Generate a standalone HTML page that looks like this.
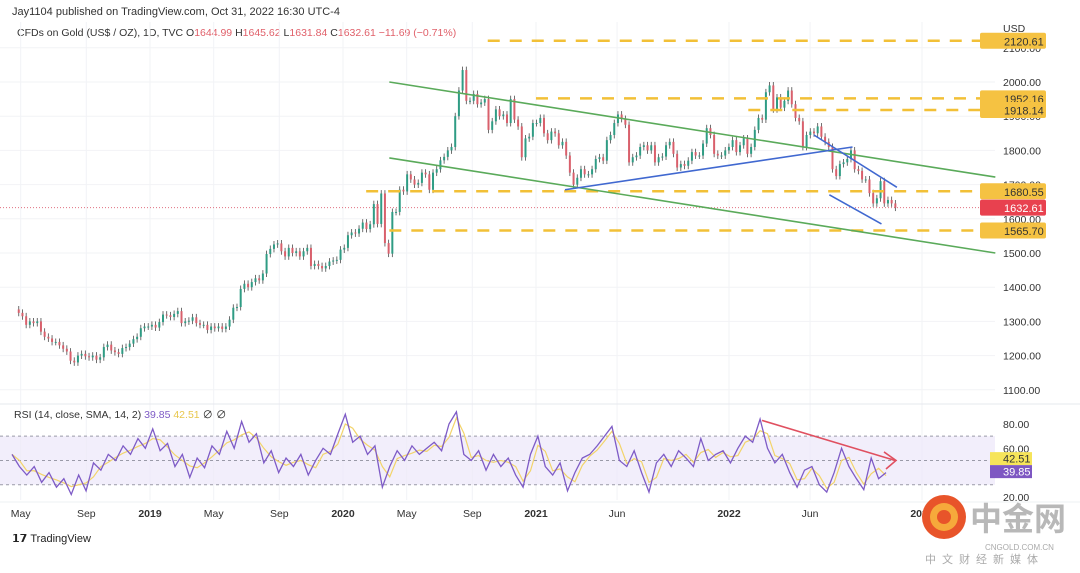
<!DOCTYPE html>
<html><head><meta charset="utf-8">
<style>
body{margin:0;background:#fff;width:1080px;height:568px;overflow:hidden;font-family:"Liberation Sans","Noto Sans CJK SC",sans-serif;}
svg text{font-family:"Liberation Sans","Noto Sans CJK SC",sans-serif;}
</style></head>
<body>
<svg id="c" width="1080" height="568" viewBox="0 0 1080 568" xmlns="http://www.w3.org/2000/svg">
<text x="12" y="15" font-size="11" fill="#333">Jay1104 published on TradingView.com, Oct 31, 2022 16:30 UTC-4</text>
<text x="17" y="36" font-size="10.5" fill="#333">CFDs on Gold (US$ / OZ), 1D, TVC  O<tspan fill="#e0606a">1644.99</tspan> H<tspan fill="#e0606a">1645.62</tspan> L<tspan fill="#e0606a">1631.84</tspan> C<tspan fill="#e0606a">1632.61</tspan> <tspan fill="#e0606a">−11.69 (−0.71%)</tspan></text>
<text x="1003" y="32" font-size="10.5" fill="#333">USD</text>
<g id="grid"></g><g id="candles"></g><g id="draw"></g><g id="rsi"></g><g id="axis"></g>
<g>
<circle cx="944" cy="517" r="22" fill="#e8542a"/>
<circle cx="944" cy="517" r="14" fill="#f6a93b"/>
<circle cx="944" cy="517" r="7" fill="#e8542a"/>
<text x="970" y="530" font-size="32" fill="#b8b8b8" font-weight="bold">中金网</text>
<text x="985" y="550" font-size="8" fill="#aaa">CNGOLD.COM.CN</text>
<text x="925" y="563" font-size="11" fill="#aaa" letter-spacing="6">中文财经新媒体</text>
</g>
<text x="12" y="542" font-size="11" fill="#222" font-weight="bold">𝟭𝟳 <tspan font-weight="normal">TradingView</tspan></text>
</svg>
<script>
const closes=[1325,1315,1290,1300,1295,1300,1270,1255,1250,1240,1240,1230,1220,1212,1185,1180,1200,1205,1198,1195,1200,1188,1195,1225,1232,1215,1210,1205,1222,1225,1235,1248,1255,1280,1285,
1285,1290,1282,1298,1320,1318,1313,1322,1330,1295,1300,1302,1312,1295,1290,1290,1275,1285,1280,1285,1278,1285,1305,1340,1342,1395,1410,1400,1415,1426,1420,1440,1497,1512,1525,1528,1505,1490,1515,1500,1505,1490,1505,1515,1462,1468,1462,1455,1462,1475,1478,1480,1510,1515,
1552,1560,1557,1571,1589,1570,1584,1643,1585,1674,1529,1498,1620,1620,1685,1680,1730,1715,1700,1705,1735,1730,1685,1735,1745,1771,1781,1800,1810,1900,1975,2035,1945,1945,1965,1935,1940,1950,1860,1885,1920,1900,1905,1880,1950,1890,1870,1780,1835,1840,1880,1880,1895,
1850,1830,1855,1850,1815,1825,1785,1735,1700,1720,1745,1730,1730,1745,1775,1780,1770,1830,1845,1880,1905,1892,1875,1765,1780,1785,1810,1815,1800,1815,1765,1780,1782,1815,1825,1790,1750,1760,1755,1770,1795,1785,1785,1820,1865,1845,1790,1785,1785,1800,1810,1830,
1795,1815,1835,1790,1810,1860,1895,1890,1970,1990,1920,1955,1925,1945,1975,1935,1895,1885,1810,1845,1855,1850,1870,1840,1825,1810,1745,1725,1760,1765,1775,1800,1745,1740,1715,1715,1675,1645,1660,1710,1645,1655,1645,1632.61];
const rsiVals=[55,45,38,45,32,40,28,35,22,38,25,48,42,55,50,62,55,68,60,76,58,64,45,55,36,52,44,62,55,74,60,82,65,72,48,58,40,52,45,55,38,50,60,55,72,88,65,70,55,62,28,45,58,50,62,55,60,65,58,80,90,55,50,58,42,55,45,52,38,28,55,70,45,38,48,25,40,52,55,62,70,78,50,45,58,40,24,48,55,45,58,52,45,68,50,55,58,48,60,70,65,84,60,48,55,40,28,42,45,30,24,40,60,45,35,26,52,35,40];
const priceTicks=[1100,1200,1300,1400,1500,1600,1700,1800,1900,2000,2100];
const rsiTicks=[20,60,80];
const timeLabels=["May","Sep","2019","May","Sep","2020","May","Sep","2021","Jun","2022","Jun","2023"];
const timeDates=[2018.33,2018.67,2019,2019.33,2019.67,2020,2020.33,2020.67,2021,2021.42,2022,2022.42,2023];
const levels=[2120.61,1952.16,1918.14,1680.55,1565.70];
const levelStart=[2020.75,2021.0,2022.1,2020.12,2020.24];
const NS="http://www.w3.org/2000/svg";
const xD=t=>150+(t-2019)*193;
const yP=p=>82+(2000-p)*0.342;
const yR=v=>424+(80-v)*1.215;
const t0=2018.32;
function mk(tag,attrs,parent,txt){const e=document.createElementNS(NS,tag);for(const k in attrs)e.setAttribute(k,attrs[k]);if(txt!=null)e.textContent=txt;document.getElementById(parent).appendChild(e);return e;}
priceTicks.forEach(p=>{const l=mk('line',{x1:0,x2:995,y1:yP(p),y2:yP(p),stroke:'#f2f3f6'},'grid');


const t=mk('text',{x:1003,y:yP(p)+4,'font-size':10.5,fill:'#333'},'axis',p.toFixed(2));

});
timeLabels.forEach((s,i)=>{const x=xD(timeDates[i]);const l=mk('line',{x1:x,x2:x,y1:22,y2:500,stroke:'#f2f3f6'},'grid');


const t=mk('text',{x:x,y:517,'font-size':10.5,fill:'#333','text-anchor':'middle','font-weight':/^\d/.test(s)?'bold':'normal'},'axis',s);

});
mk('line',{x1:0,x2:1080,y1:404,y2:404,stroke:'#e6e8ee'},'grid');
mk('line',{x1:0,x2:1080,y1:502,y2:502,stroke:'#eef0f3'},'grid');
const cur=closes[closes.length-1];
const cl=mk('line',{x1:0,x2:995,y1:yP(cur),y2:yP(cur),stroke:'#e07080','stroke-dasharray':'1,2'},'grid');


closes.forEach((c,i)=>{const o=i?closes[i-1]:c+10;const x=xD(t0+i/52.18);const hi=Math.max(o,c)+10,lo=Math.min(o,c)-10;const col=c>=o?'#2f9c84':'#d9606c';
const w=mk('line',{x1:x,x2:x,y1:yP(hi),y2:yP(lo),stroke:'#4a4a4a','stroke-width':0.8},'candles');


const b=mk('rect',{x:x-1,y:yP(Math.max(o,c)),width:2,height:Math.max(1,Math.abs(yP(o)-yP(c))),fill:col},'candles');

});
levels.forEach((p,i)=>{const l=mk('line',{x1:xD(levelStart[i]),x2:995,y1:yP(p),y2:yP(p),stroke:'#f2c037','stroke-width':2.5,'stroke-dasharray':'12,10'},'draw');

});
function tl(t1,p1,t2,p2,col,name){const l=mk('line',{x1:xD(t1),y1:yP(p1),x2:xD(t2),y2:yP(p2),stroke:col,'stroke-width':1.6},'draw');

}
tl(2020.24,2000,2023.38,1722,'#5aaa5a','channel-upper');
tl(2020.24,1778,2023.38,1500,'#5aaa5a','channel-lower');
tl(2021.15,1685,2022.64,1810,'#4068d0','support-trendline');
tl(2022.44,1845,2022.87,1692,'#4068d0','wedge-upper');
tl(2022.52,1670,2022.79,1585,'#4068d0','wedge-lower');
function lab(p,txt,bg,fg,name){const y=yP(p);const r=mk('rect',{x:980,y:y-8,width:66,height:16,rx:2,fill:bg},'axis');


const t=mk('text',{x:1004,y:y+4.5,'font-size':11,fill:fg},'axis',txt);

}
lab(2120.61,'2120.61','#f5c242','#333','level-label');
lab(1952.16,'1952.16','#f5c242','#333','level-label');
lab(1918.14,'1918.14','#f5c242','#333','level-label');
lab(1680.55,'1680.55','#f5c242','#333','level-label');
lab(cur,cur.toFixed(2),'#e8414f','#fff','last-price-label');
lab(1565.70,'1565.70','#f5c242','#333','level-label');
mk('rect',{x:0,y:yR(70),width:995,height:yR(30)-yR(70),fill:'#ede7f9',opacity:0.7},'rsi');
[70,50,30].forEach(v=>{const l=mk('line',{x1:0,x2:995,y1:yR(v),y2:yR(v),stroke:'#9a9aa8','stroke-dasharray':'3,3'},'rsi');

});
const n=rsiVals.length;const rx=i=>12+i*(874/(n-1));
const sma=rsiVals.map((v,i)=>{const s=rsiVals.slice(Math.max(0,i-1),i+1);return s.reduce((a,b)=>a+b,0)/s.length;});
const sm=mk('polyline',{points:sma.map((v,i)=>rx(i)+','+yR(v)).join(' '),fill:'none',stroke:'#f3d46a','stroke-width':1.2},'rsi');


const rl=mk('polyline',{points:rsiVals.map((v,i)=>rx(i)+','+yR(v)).join(' '),fill:'none',stroke:'#7e5bc6','stroke-width':1.3},'rsi');


const ar=mk('line',{x1:762,y1:yR(83),x2:895,y2:yR(50),stroke:'#e05060','stroke-width':1.6},'rsi');


mk('polyline',{points:`884,${yR(57)} 896,${yR(50)} 886,${yR(43)}`,fill:'none',stroke:'#e05060','stroke-width':1.6},'rsi');
const rt=mk('text',{x:14,y:418,'font-size':10.5,fill:'#333'},'rsi');
rt.innerHTML='RSI (14, close, SMA, 14, 2) <tspan fill="#7e5bc6">39.85</tspan> <tspan fill="#e8c64a">42.51</tspan> ∅ ∅';


rsiTicks.forEach(v=>{const t=mk('text',{x:1003,y:yR(v)+4,'font-size':10.5,fill:'#333'},'axis',v.toFixed(2));

});
function rlab(v,txt,bg,fg){const y=yR(v);const r=mk('rect',{x:990,y:y-6.5,width:42,height:13,fill:bg},'axis');


const t=mk('text',{x:1003,y:y+4,'font-size':11,fill:fg},'axis',txt);

}
rlab(51.5,'42.51','#f6e45a','#333');
rlab(40.8,'39.85','#7e57c2','#fff');
</script>
</body></html>
